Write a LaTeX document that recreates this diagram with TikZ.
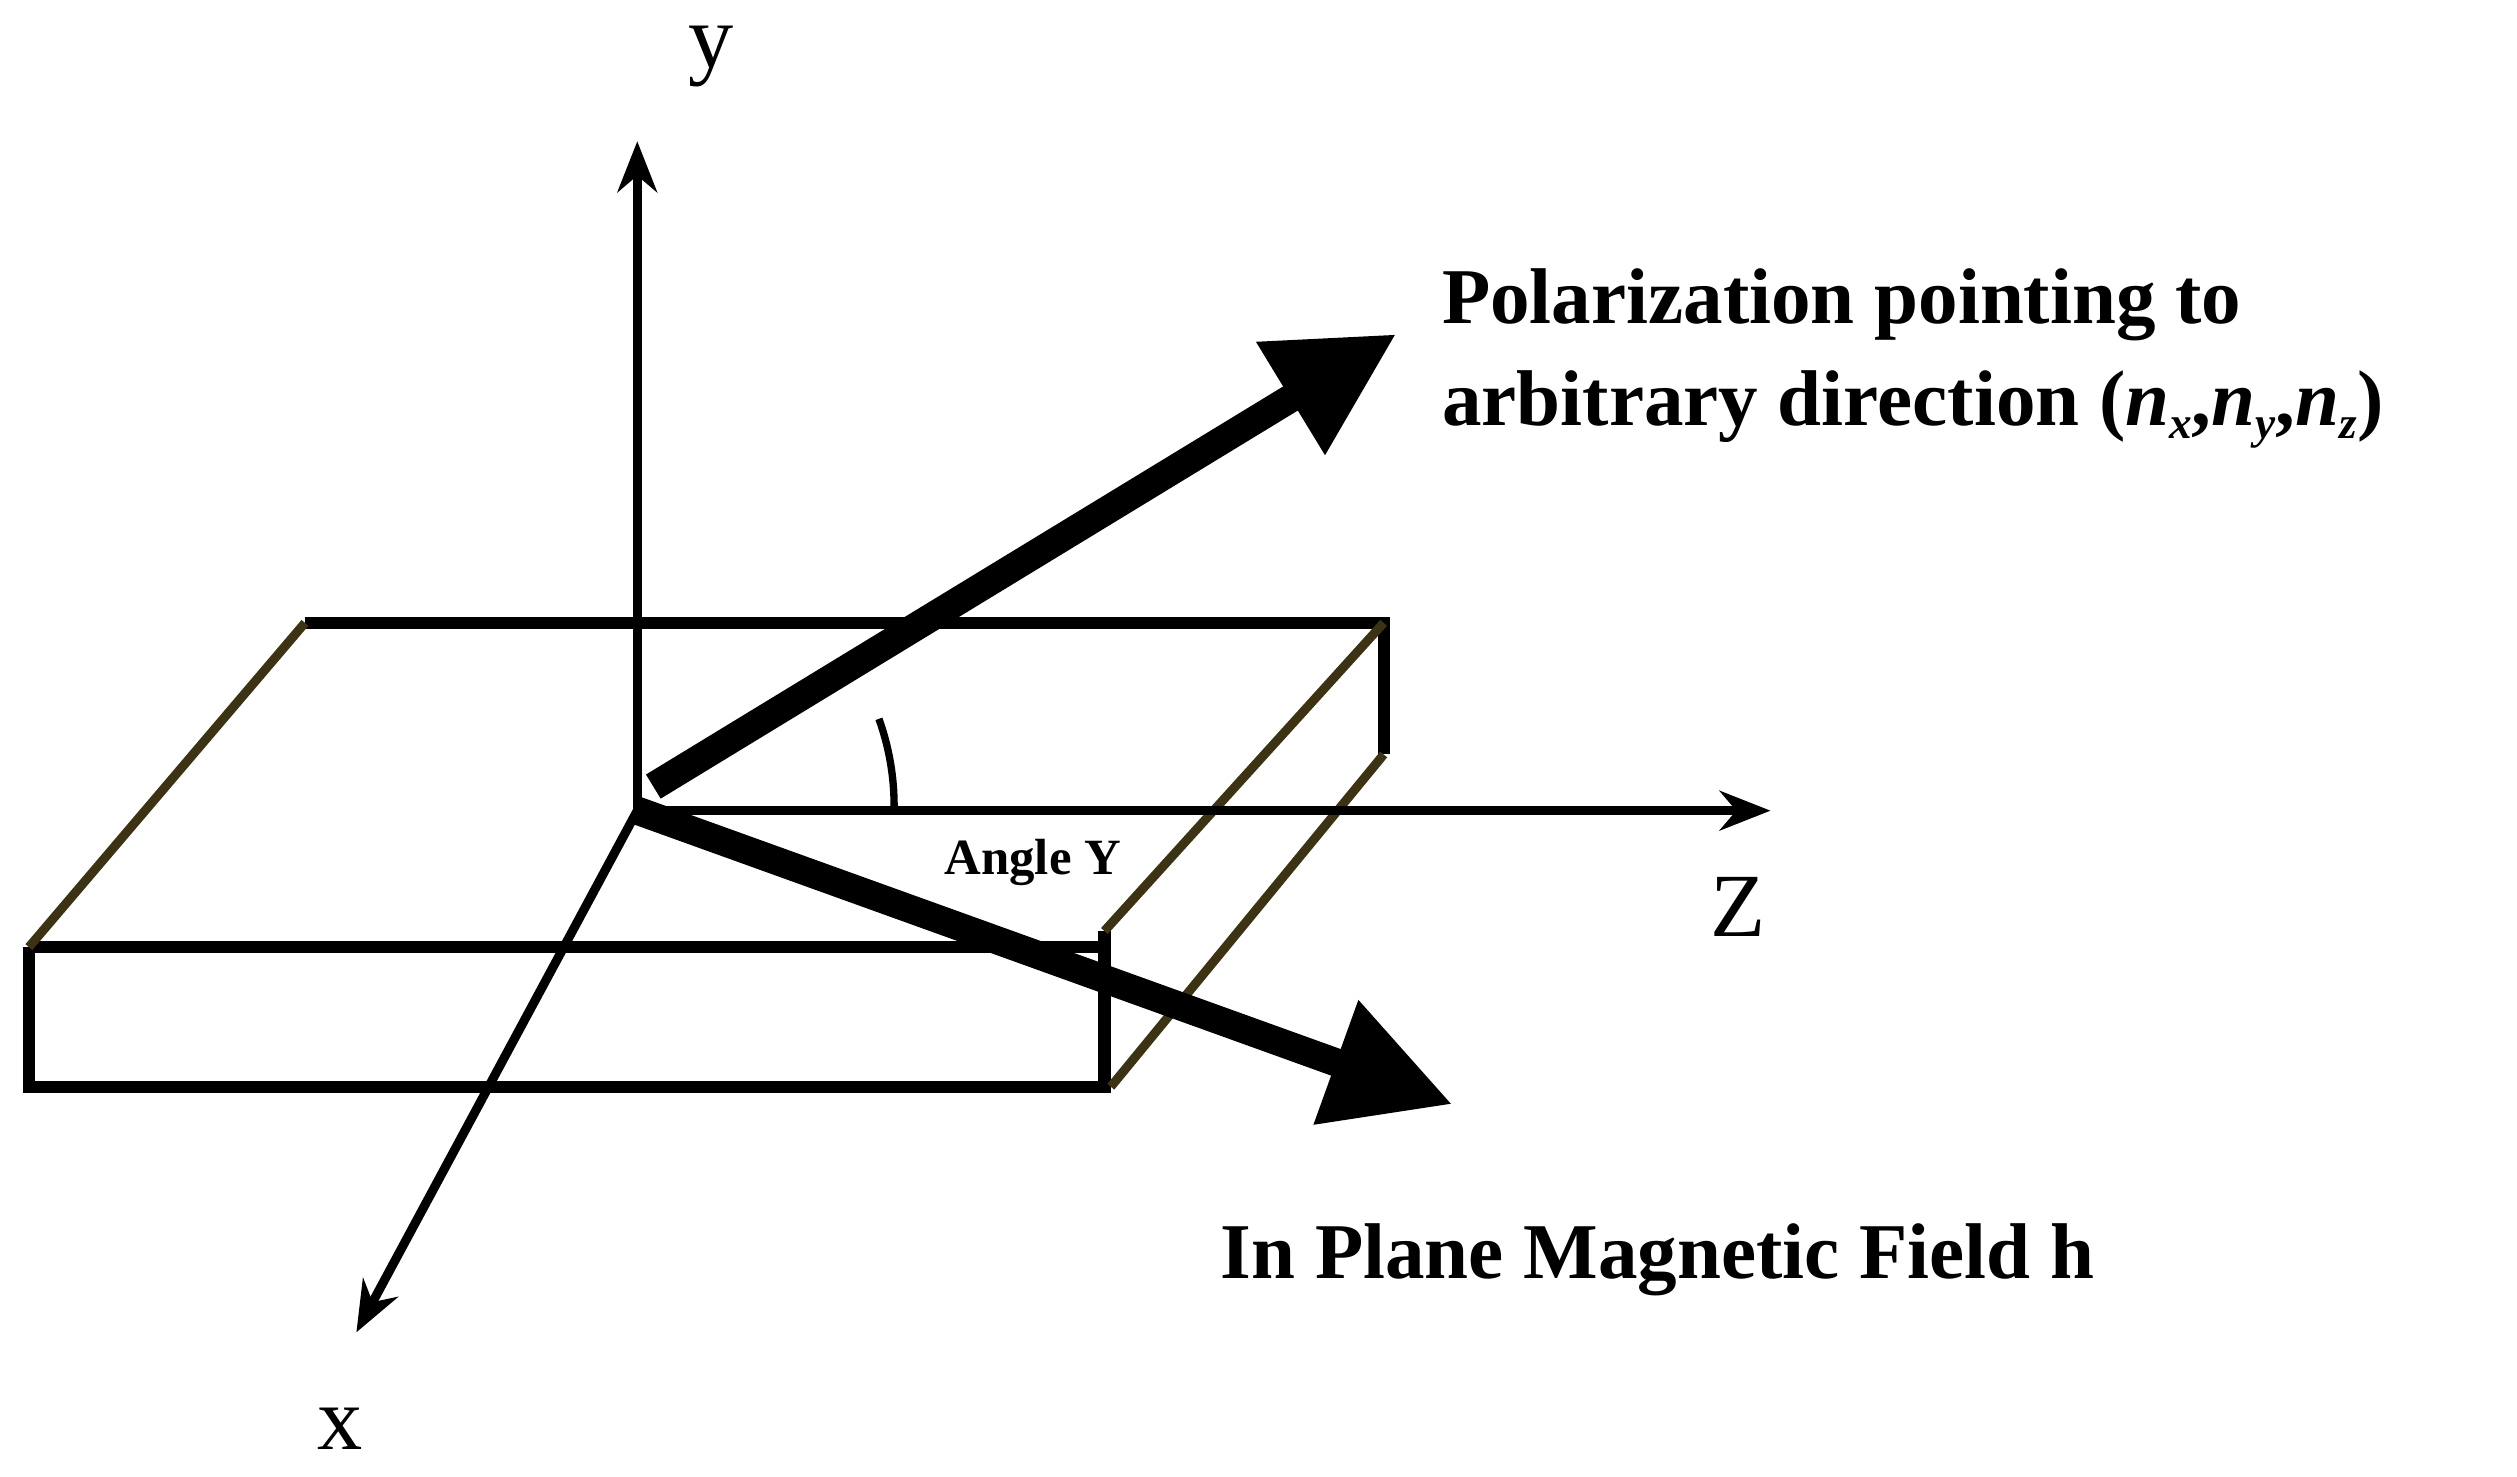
\documentclass[tikz,border=0pt]{standalone}
\usepackage{fontspec}
\setmainfont{Liberation Serif}
\usetikzlibrary{arrows.meta}
\definecolor{olive}{RGB}{60,50,20}
\begin{document}
\begin{tikzpicture}[x=0.01cm,y=-0.01cm,
  edge/.style={line width=2.2pt},
  diag/.style={line width=1.6pt,draw=olive},
  axis/.style={line width=1.6pt,-{Stealth[length=9pt,width=7pt]}},
  thick arrow/.style={line width=5pt,-{Triangle[length=22pt,width=22pt]}},
  big/.style={font=\fontsize{14}{17}\selectfont\bfseries,anchor=west},
  axl/.style={font=\fontsize{16}{18}\selectfont}]
\useasboundingbox (0,0) rectangle (1568,920);
% slab
\coordinate (bl) at (190,388); \coordinate (br) at (862,388);
\coordinate (brb) at (862,470);
\coordinate (fl) at (18,590); \coordinate (fr) at (688,590);
\coordinate (flb) at (18,677); \coordinate (frb) at (688,677);
\coordinate (frt) at (688,580); \coordinate (frbb) at (692,677);
\draw[edge] (bl) -- (br) -- (brb);
\draw[edge] (fl) -- (fr);
\draw[edge] (fl) -- (flb) -- (frb) -- (frt);
\draw[diag] (bl) -- (fl);
\draw[diag] (br) -- (frt);
\draw[diag] (brb) -- (frbb);
% axes
\coordinate (O) at (397,505);
\coordinate (ytip) at (397,88);
\coordinate (ztip) at (1103,505);
\coordinate (xtip) at (222,830);
\draw[axis] (O) -- (ytip);
\draw[axis] (O) -- (ztip);
\draw[axis] (O) -- (xtip);
\node[axl] (ylab) at (443,35) {y};
\node[axl] (zlab) at (1083,565) {Z};
\node[axl] (xlab) at (212,890) {x};
% thick arrows
\coordinate (ps) at (407,490); \coordinate (pe) at (870,208);
\draw[thick arrow] (ps) -- (pe);
\coordinate (hs) at (397,505); \coordinate (he) at (905,688);
\draw[thick arrow] (hs) -- (he);
% angle
\draw[line width=1.3pt] (557,502) arc[start angle=0,end angle=-19.8,radius=160];
\node[font=\fontsize{9}{11}\selectfont\bfseries,anchor=west] (ang) at (576,537) {Angle Y};
% labels
\node[big] (pol1) at (886,190) {Polarization pointing to};
\node[big] (pol2) at (886,255) {arbitrary direction (\textit{n}\raisebox{-0.35ex}{\footnotesize\textit{x}},\textit{n}\raisebox{-0.35ex}{\footnotesize\textit{y}},\textit{n}\raisebox{-0.35ex}{\footnotesize\textit{z}})};
\node[big] (hlab) at (748,785) {In Plane Magnetic Field h};
\end{tikzpicture}
\end{document}
